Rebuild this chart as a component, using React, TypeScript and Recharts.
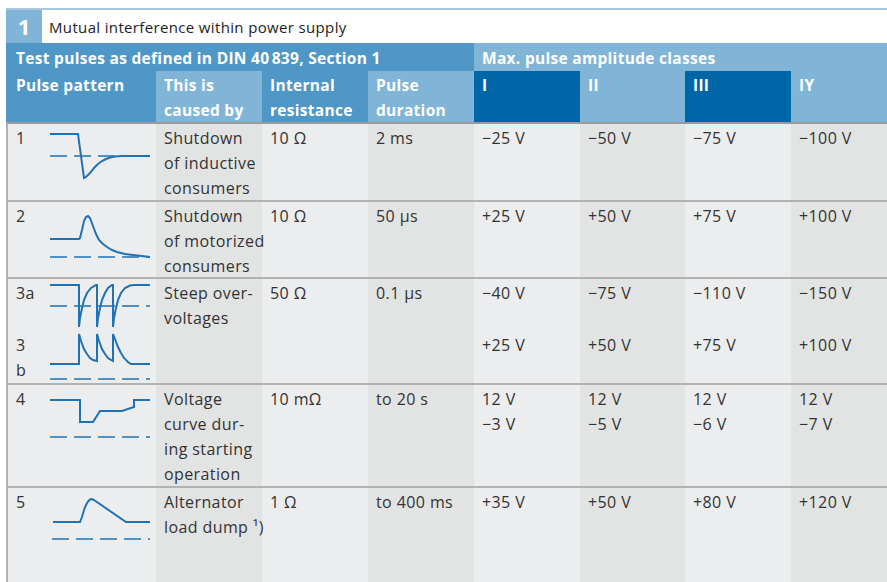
import { Line, LineChart, XAxis, YAxis } from "recharts";

// table text
const titleNumber = "1";
const titleText = "Mutual interference within power supply";
const groupTest = "Test pulses as defined in DIN 40\u202F839, Section 1";
const groupClasses = "Max. pulse amplitude classes";
const headers = [
  ["Pulse pattern"],
  ["This is", "caused by"],
  ["Internal", "resistance"],
  ["Pulse", "duration"],
  ["I"],
  ["II"],
  ["III"],
  ["IY"],
];

const pulseIds = ["1", "2", "3a", "4", "5"];
const causes = [
  ["Shutdown", "of inductive", "consumers"],
  ["Shutdown", "of motorized", "consumers"],
  ["Steep over-", "voltages"],
  ["Voltage", "curve dur-", "ing starting", "operation"],
  ["Alternator", "load dump \u00B9)"],
];
const resistances = ["10 \u03A9", "10 \u03A9", "50 \u03A9", "10 m\u03A9", "1 \u03A9"];
const durations = ["2 ms", "50 \u00B5s", "0.1 \u00B5s", "to 20 s", "to 400 ms"];

// amplitude classes I..IY, one entry per pulse row (3b kept separately)
const classI = [["\u221225 V"], ["+25 V"], ["\u221240 V"], ["12 V", "\u22123 V"], ["+35 V"]];
const classII = [["\u221250 V"], ["+50 V"], ["\u221275 V"], ["12 V", "\u22125 V"], ["+50 V"]];
const classIII = [["\u221275 V"], ["+75 V"], ["\u2212110 V"], ["12 V", "\u22126 V"], ["+80 V"]];
const classIY = [["\u2212100 V"], ["+100 V"], ["\u2212150 V"], ["12 V", "\u22127 V"], ["+120 V"]];
const pulse3b = ["+25 V", "+50 V", "+75 V", "+100 V"];

// pulse shapes: [time, voltage above the dashed reference]
const shape1 = [[0, 22], [28, 22], [34, -22], [36, -21], [40, -17], [44, -12], [48, -8], [52, -5], [56, -3], [60, -1.5], [65, -0.6], [72, 0], [100, 0]];
const shape2 = [[0, 18], [29, 18], [30, 19], [32, 27], [34, 36], [36, 40], [38, 41], [40, 39], [43, 31], [46, 23], [49, 17], [53, 13], [57, 10], [62, 7], [67, 5], [75, 3], [83, 2], [100, 0]];
const shape3a = [[0, 21], [29, 21], [29, -21], [30, -12], [32, -2], [34, 6], [37, 13], [41, 18], [46, 21], [47, 21], [47, -21], [48, -12], [50, -2], [52, 6], [55, 13], [58, 18], [62, 21], [63, 21], [63, -21], [64, -12], [66, -2], [68, 6], [71, 13], [75, 18], [80, 20.5], [84, 21], [100, 21]];
const shape3b = [[0, 15], [29, 15], [29, 45], [31, 38], [34, 30], [37, 25], [40, 21], [43, 19], [47, 18], [47, 45], [49, 38], [52, 30], [55, 25], [58, 21], [61, 19], [63, 18], [63, 45], [65, 40], [68, 32], [71, 26], [74, 21], [78, 17], [81, 15], [100, 15]];
const shape4 = [[0, 37], [30, 37], [30, 15], [43, 15], [50, 26], [72, 26], [84, 30], [84, 37], [100, 37]];
const shape5 = [[3, 17], [30, 17], [32, 22], [34, 29], [36, 34], [38, 37.5], [40, 39.5], [42, 40], [44, 39], [76, 17], [100, 17]];

// layout
const colX = [6, 156, 262, 368, 474, 580, 685, 791, 887];
const rowTop = [123, 201, 278, 384, 487];
const bodyBottom = 582;
const FONT = "'Open Sans', sans-serif";
const MID = "#4f97c7";
const LIGHT = "#80b5d8";
const DARK = "#0066a8";
const headBg = [MID, LIGHT, MID, LIGHT, DARK, LIGHT, DARK, LIGHT];
const BODY_A = "#ecedee";
const BODY_B = "#e2e3e3";
const LINE = "#1f72b4";

function Pulse({ shape, left, baseline, start = 0 }: { shape: number[][]; left: number; baseline: number; start?: number }) {
  const ys = shape.map((p) => p[1]);
  const hi = Math.max(...ys, 0) + 3;
  const lo = Math.min(...ys, 0) - 3;
  const data = [
    { t: start, ref: 0 },
    ...shape.map(([t, v]) => ({ t, v })),
    { t: 100, ref: 0 },
  ];
  return (
    <div style={{ position: "absolute", left: left - 2, top: baseline - hi }}>
      <LineChart width={104} height={hi - lo} data={data} margin={{ top: 0, right: 2, bottom: 0, left: 2 }}>
        <XAxis type="number" dataKey="t" domain={[0, 100]} hide />
        <YAxis type="number" domain={[lo, hi]} hide />
        <Line dataKey="ref" stroke={LINE} strokeWidth={1.6} strokeDasharray="17 7" dot={false} connectNulls isAnimationActive={false} />
        <Line dataKey="v" stroke={LINE} strokeWidth={2} dot={false} connectNulls isAnimationActive={false} />
      </LineChart>
    </div>
  );
}

function Text({ x, y, lines, color = "#333", size = 16, weight = 400, lh = 25, ls = 0.4 }: { x: number; y: number; lines: string[]; color?: string; size?: number; weight?: number; lh?: number; ls?: number }) {
  return (
    <div style={{ position: "absolute", left: x, top: y, color, fontSize: size, fontWeight: weight, lineHeight: `${lh}px`, letterSpacing: ls, whiteSpace: "nowrap", fontFamily: FONT }}>
      {lines.map((l, i) => (
        <div key={i}>{l}</div>
      ))}
    </div>
  );
}

export default function App() {
  const classes = [classI, classII, classIII, classIY];
  const shapes = [shape1, shape2, shape3a, shape4, shape5];
  const baseOffset = [33, 56, 28, 53, 52];
  return (
    <div style={{ position: "absolute", left: 0, top: 0, width: 887, height: 582, overflow: "hidden", background: "#fff", fontFamily: FONT }}>
      {/* title row */}
      <div style={{ position: "absolute", left: 6, top: 8, width: 881, height: 2, background: "#a6c9e2" }} />
      <div style={{ position: "absolute", left: 6, top: 10, width: 36, height: 33, background: LIGHT }} />
      <div style={{ position: "absolute", left: 6, top: 10, width: 36, height: 33, color: "#fff", fontSize: 22, fontWeight: 700, lineHeight: "33px", textAlign: "center" }}>{titleNumber}</div>
      <Text x={49} y={12} lines={[titleText]} color="#222" size={15} lh={30} ls={0.35} />

      {/* header group row */}
      <div style={{ position: "absolute", left: 6, top: 43, width: colX[4] - 6, height: 28, background: MID }} />
      <div style={{ position: "absolute", left: colX[4], top: 43, width: 887 - colX[4], height: 28, background: LIGHT }} />
      <Text x={16} y={44} lines={[groupTest]} color="#fff" size={15.5} weight={700} lh={28} ls={0.3} />
      <Text x={482} y={44} lines={[groupClasses]} color="#fff" size={15.5} weight={700} lh={28} ls={0.3} />

      {/* header columns */}
      {headers.map((h, i) => (
        <div key={i}>
          <div style={{ position: "absolute", left: colX[i], top: 71, width: colX[i + 1] - colX[i], height: 52, background: headBg[i] }} />
          <Text x={colX[i] + (i === 0 ? 10 : 8)} y={73} lines={h} color="#fff" size={15.5} weight={700} lh={25} ls={0.3} />
        </div>
      ))}

      {/* body columns */}
      {headers.map((_, i) => (
        <div key={i} style={{ position: "absolute", left: colX[i], top: 123, width: colX[i + 1] - colX[i], height: bodyBottom - 123, background: i % 2 === 0 ? BODY_A : BODY_B }} />
      ))}
      <div style={{ position: "absolute", left: 6, top: 122, width: 881, height: 2, background: "#9a9a9a" }} />
      {rowTop.slice(1).map((y) => (
        <div key={y} style={{ position: "absolute", left: 6, top: y - 1, width: 881, height: 2, background: "#b2b2b2" }} />
      ))}
      <div style={{ position: "absolute", left: 6, top: 123, width: 2, height: bodyBottom - 123, background: "#b2b2b2" }} />

      {/* body rows */}
      {pulseIds.map((id, r) => (
        <div key={id}>
          <Text x={16} y={rowTop[r] + 3} lines={[id]} />
          <Pulse shape={shapes[r]} left={50} baseline={rowTop[r] + baseOffset[r]} start={r === 4 ? 2 : 0} />
          <Text x={colX[1] + 8} y={rowTop[r] + 3} lines={causes[r]} />
          <Text x={colX[2] + 8} y={rowTop[r] + 3} lines={[resistances[r]]} />
          <Text x={colX[3] + 8} y={rowTop[r] + 3} lines={[durations[r]]} />
          {classes.map((c, k) => (
            <Text key={k} x={colX[4 + k] + 8} y={rowTop[r] + 3} lines={c[r]} />
          ))}
        </div>
      ))}

      {/* pulse 3b inside row 3 */}
      <Text x={16} y={rowTop[2] + 55} lines={["3", "b"]} />
      <Pulse shape={shape3b} left={50} baseline={rowTop[2] + 101} />
      {pulse3b.map((v, k) => (
        <Text key={k} x={colX[4 + k] + 8} y={rowTop[2] + 55} lines={[v]} />
      ))}
    </div>
  );
}
